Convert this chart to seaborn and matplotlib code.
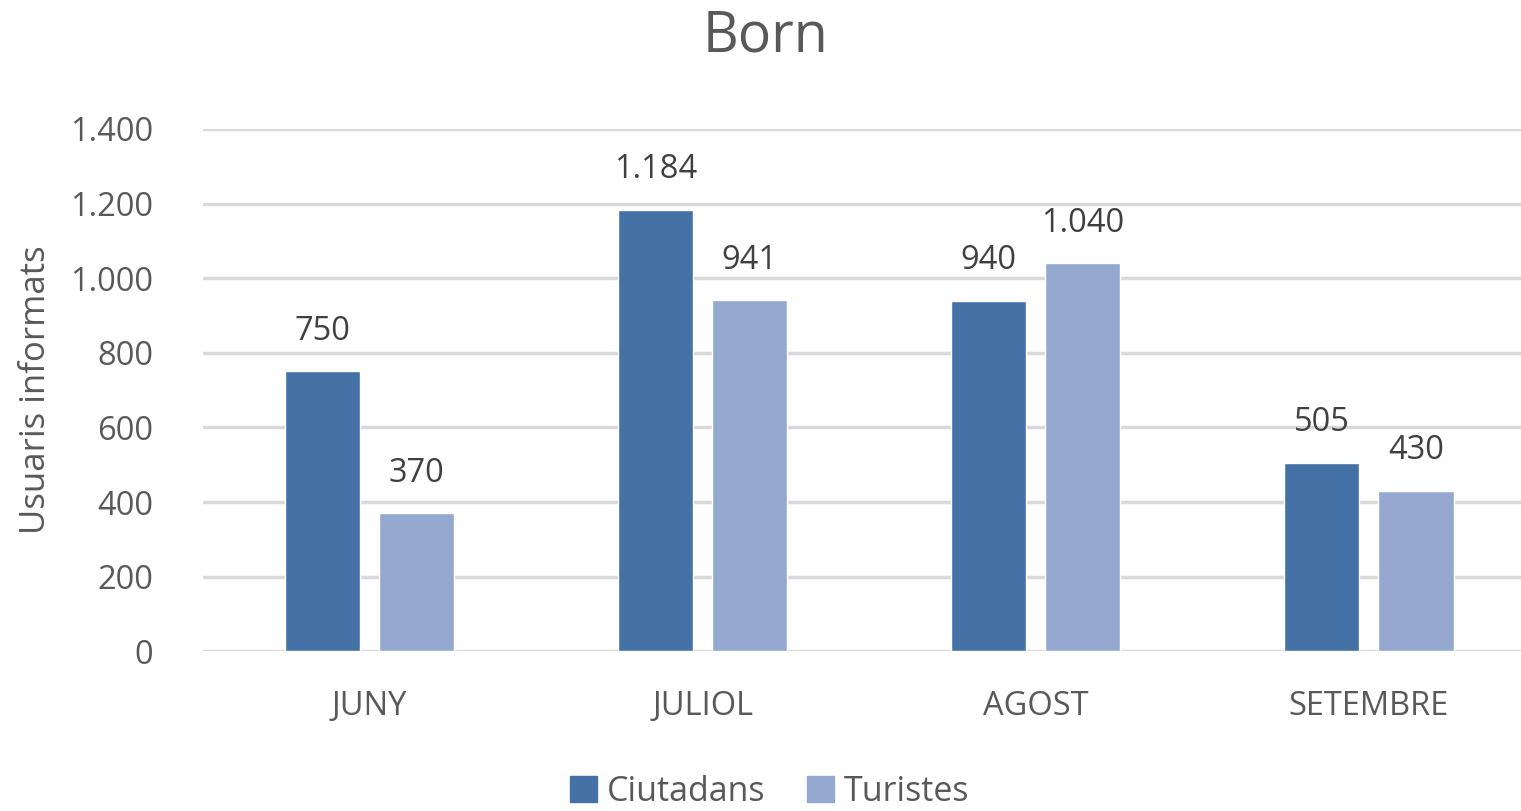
import pandas as pd
import seaborn as sns
import matplotlib.pyplot as plt
from matplotlib.ticker import FuncFormatter

# data
months = ["JUNY", "JULIOL", "AGOST", "SETEMBRE"]
ciutadans = [750, 1184, 940, 505]
turistes = [370, 941, 1040, 430]
series_names = ["Ciutadans", "Turistes"]

df = pd.DataFrame({
    "mes": months * 2,
    "valor": ciutadans + turistes,
    "grup": [series_names[0]] * 4 + [series_names[1]] * 4,
})

def dotted(v):
    return f"{int(round(v)):,}".replace(",", ".")

sns.set_style("white")
plt.rcParams["font.family"] = ["Open Sans", "DejaVu Sans"]
grey = "#595959"

fig = plt.figure(figsize=(15.21, 8.11), dpi=100)
ax = fig.add_axes([0.1335, 0.197, 0.876, 0.644])

sns.barplot(data=df, x="mes", y="valor", hue="grup", order=months,
            hue_order=series_names, palette=["#4472A6", "#95A9D0"],
            width=0.565, gap=0.2, saturation=1, ax=ax, legend=False)

ax.set_xlim(-0.5, 3.5)
ax.set_ylim(0, 1400)
ax.set_yticks(range(0, 1401, 200))
ax.yaxis.set_major_formatter(FuncFormatter(lambda v, p: dotted(v)))
ax.grid(axis="y", color="#d9d9d9", linewidth=2.5)
ax.set_axisbelow(True)
for s in ax.spines.values():
    s.set_visible(False)
ax.tick_params(axis="both", length=0, labelsize=23.5, colors=grey)
ax.tick_params(axis="x", pad=28)
ax.tick_params(axis="y", pad=36)
ax.set_xlabel("")
ax.set_ylabel("Usuaris informats", fontsize=25, color=grey, labelpad=12)

for cont in ax.containers:
    ax.bar_label(cont, labels=[dotted(b.get_height()) for b in cont],
                 padding=17, fontsize=23.5, color="#404040")

fig.suptitle("Born", x=0.503, y=0.99, fontsize=40, color=grey)

handles = [plt.Rectangle((0, 0), 1, 1, color=c) for c in ["#4472A6", "#95A9D0"]]
fig.legend(handles, series_names, loc="lower center", bbox_to_anchor=(0.506, -0.035),
           ncol=2, frameon=False, fontsize=24.5, labelcolor=grey,
           handlelength=0.8, handleheight=0.8, handletextpad=0.3, columnspacing=1.2)

fig.savefig("out.png", dpi=100)
